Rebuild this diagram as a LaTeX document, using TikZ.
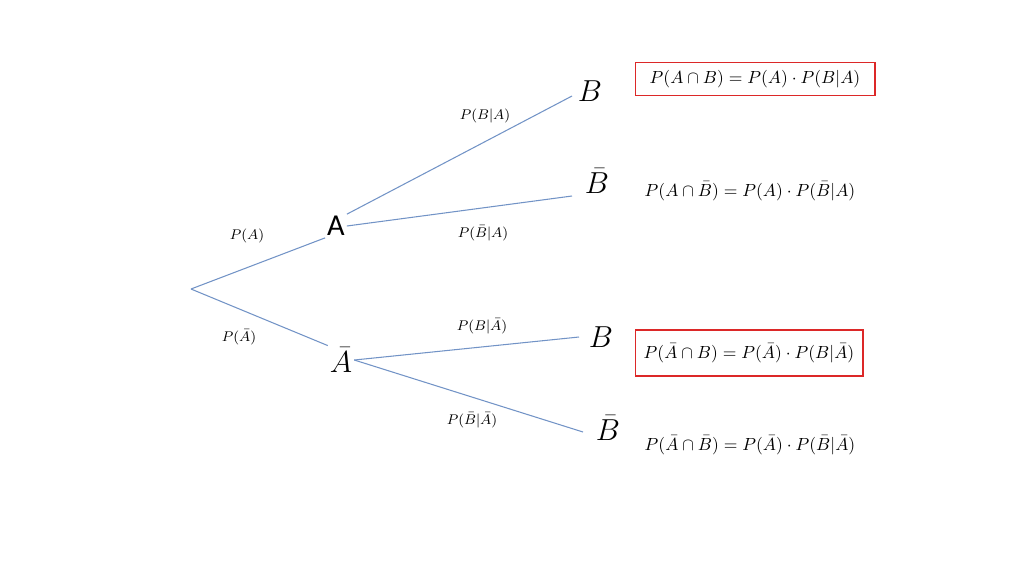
\documentclass[tikz,border=0pt]{standalone}
\usepackage{fontspec}
\newfontfamily\eventfont{Carlito}
\definecolor{branchblue}{RGB}{114,147,198}
\definecolor{framered}{RGB}{220,40,40}
\begin{document}
\begin{tikzpicture}[x=0.02cm,y=-0.02cm,
    branch/.style={draw=branchblue, line width=0.6pt},
    prob/.style={font=\footnotesize},
    event/.style={font=\LARGE, inner sep=1pt},
    result/.style={font=\normalsize, inner sep=3pt},
    framed/.style={draw=framered, line width=0.6pt, inner sep=4pt}]
    \useasboundingbox (0,0) rectangle (1024,576);
    % knoten
    \coordinate (root) at (191,289);
    \node [event] (A) at (336,226) {\eventfont A};
    \node [event] (nA) at (341,360) {$\bar A$};
    \node [event] (B1) at (590,91) {$B$};
    \node [event] (nB1) at (597,181) {$\bar B$};
    \node [event] (B2) at (601,337) {$B$};
    \node [event] (nB2) at (608,428) {$\bar B$};
    \coordinate (eB1) at (572,96);
    \coordinate (enB1) at (572,196);
    \coordinate (eB2) at (579,337);
    \coordinate (enB2) at (583,432);

    % zweige
    \draw [branch] (root) -- (A.south west);
    \draw [branch] (root) -- (nA.north west);
    \draw [branch] (A.north east) -- (eB1);
    \draw [branch] (A.east) -- (enB1);
    \draw [branch] (nA.east) -- (eB2);
    \draw [branch] (nA.east) -- (enB2);

    % wahrscheinlichkeiten
    \node [prob] (pA) at (247,236) {$P(A)$};
    \node [prob] (pnA) at (239,337) {$P(\bar A)$};
    \node [prob] (pBA) at (485,116) {$P(B|A)$};
    \node [prob] (pnBA) at (483,233) {$P(\bar B|A)$};
    \node [prob] (pBnA) at (482,326) {$P(B|\bar A)$};
    \node [prob] (pnBnA) at (472,420) {$P(\bar B|\bar A)$};

    % ergebnisse
    \node [result, framed, minimum width=4.8cm, minimum height=0.66cm] (r1) at (755,79) {$P(A\cap B)=P(A)\cdot P(B|A)$};
    \node [result] (r2) at (750,191) {$P(A\cap \bar B)=P(A)\cdot P(\bar B|A)$};
    \node [result, framed, minimum width=4.56cm, minimum height=0.92cm] (r3) at (749,353) {$P(\bar A\cap B)=P(\bar A)\cdot P(B|\bar A)$};
    \node [result] (r4) at (750,445) {$P(\bar A\cap \bar B)=P(\bar A)\cdot P(\bar B|\bar A)$};
\end{tikzpicture}
\end{document}
